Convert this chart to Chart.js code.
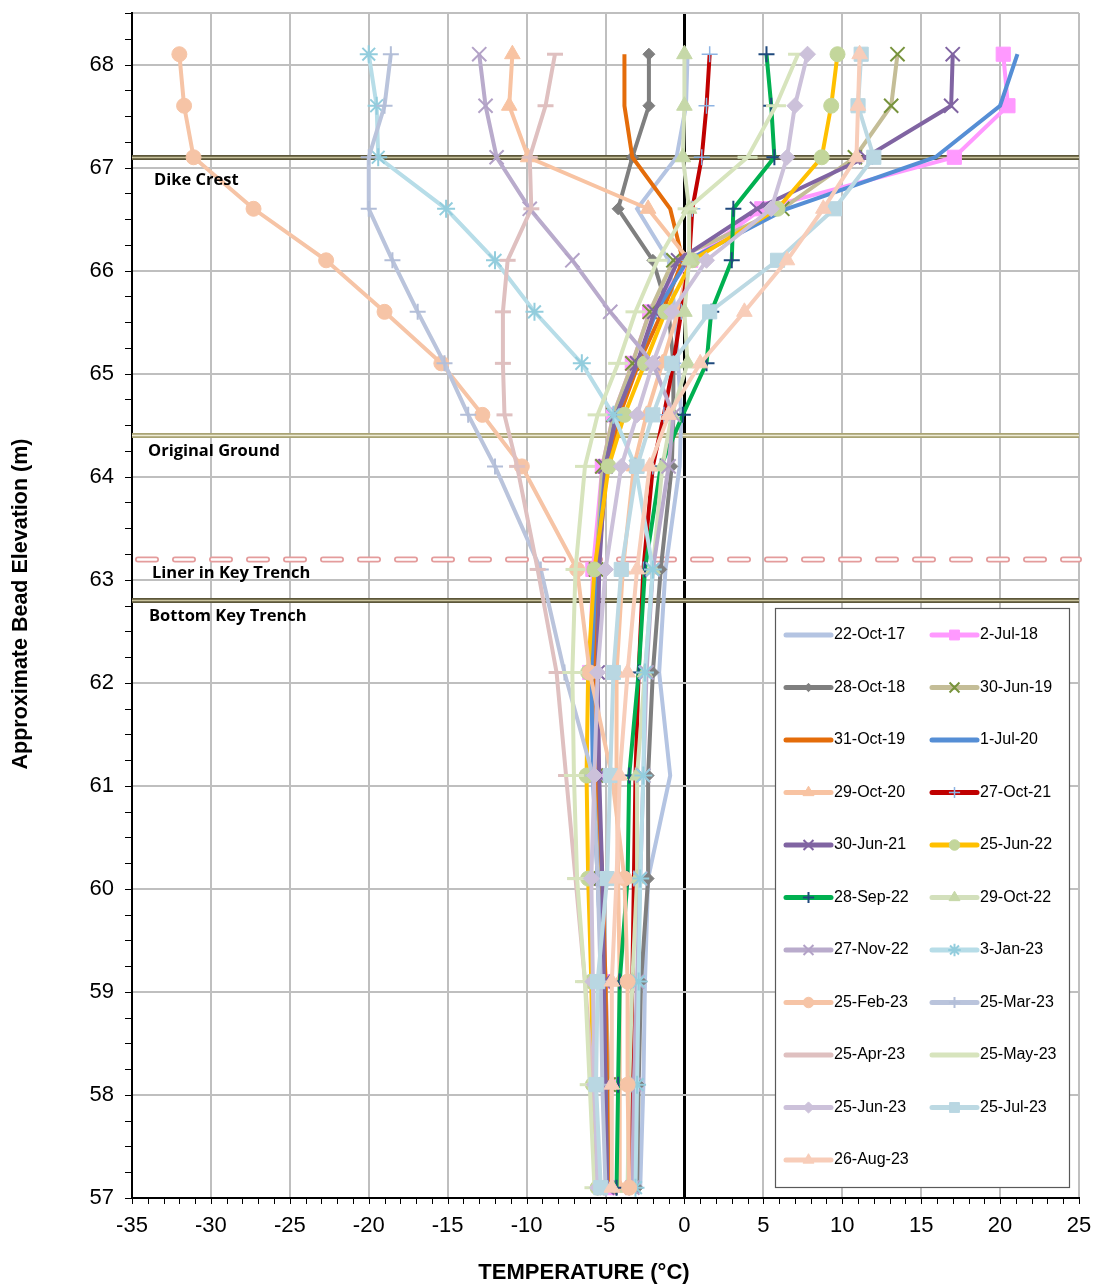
<!DOCTYPE html>
<html>
<head>
<meta charset="utf-8">
<script src="https://cdn.jsdelivr.net/npm/chart.js@4/dist/chart.umd.min.js"></script>
<style>
  html, body { margin: 0; padding: 0; background: #fff; }
  #wrap { width: 1097px; height: 1288px; position: relative; }
</style>
</head>
<body>
<div id="wrap"><canvas id="beadChart" width="1097" height="1288"></canvas></div>
<script>
// Bead elevations (m) - same for every survey
const elevations = [68.1, 67.6, 67.1, 66.6, 66.1, 65.6, 65.1, 64.6, 64.1, 63.1, 62.1, 61.1, 60.1, 59.1, 58.1, 57.1];

const seriesLabels = ['22-Oct-17', '2-Jul-18', '28-Oct-18', '30-Jun-19', '31-Oct-19', '1-Jul-20', '29-Oct-20',
  '27-Oct-21', '30-Jun-21', '25-Jun-22', '28-Sep-22', '29-Oct-22', '27-Nov-22', '3-Jan-23', '25-Feb-23',
  '25-Mar-23', '25-Apr-23', '25-May-23', '25-Jun-23', '25-Jul-23', '26-Aug-23'];

// Temperatures (deg C), read top bead -> bottom bead
const t22Oct17 = [0.2, 0.1, -0.5, -3.0, -1.0, -0.6, -0.4, -0.2, -0.3, -1.2, -1.6, -0.9, -2.3, -2.5, -2.6, -2.8];
const t2Jul18  = [20.2, 20.5, 17.1, 4.9, 0.4, -2.2, -3.3, -4.5, -5.2, -5.8, -6.0, -5.6, -5.2, -5.0, -4.8, -4.7];
const t28Oct18 = [-2.25, -2.25, -3.3, -4.2, -2.0, -1.0, -0.7, -0.7, -0.8, -1.5, -2.0, -2.3, -2.3, -2.75, -2.9, -3.0];
const t30Jun19 = [13.5, 13.1, 10.8, 6.2, -0.7, -2.2, -3.3, -4.5, -5.2, -5.6, -5.8, -5.6, -5.3, -5.0, -4.8, -4.7];
const t31Oct19 = [-3.8, -3.8, -3.3, -0.9, -0.1, -1.4, -2.9, -4.1, -4.9, -5.5, -5.7, -5.5, -5.2, -5.0, -4.9, -4.8];
const t1Jul20  = [21.1, 20.0, 15.9, 6.5, 0.2, -1.8, -3.0, -4.3, -5.0, -5.6, -5.9, -5.8, -5.5, -5.2, -5.0, -4.9];
const t29Oct20 = [-10.9, -11.1, -9.9, -2.3, 0.3, -0.4, -1.4, -2.4, -3.2, -3.9, -4.3, -4.3, -4.2, -4.1, -4.1, -4.1];
const t27Oct21 = [1.6, 1.4, 1.1, 0.5, 0.3, -0.2, -0.7, -1.3, -2.0, -2.6, -2.9, -3.1, -3.2, -3.3, -3.4, -3.5];
const t30Jun21 = [17.0, 16.9, 11.5, 4.6, -0.4, -1.9, -3.0, -4.3, -5.0, -5.4, -5.5, -5.4, -5.2, -5.1, -5.0, -4.9];
const t25Jun22 = [9.7, 9.3, 8.7, 5.9, 0.5, -1.2, -2.5, -3.8, -4.8, -5.7, -6.1, -6.2, -6.1, -5.9, -5.8, -5.5];
const t28Sep22 = [5.2, 5.5, 5.7, 3.1, 3.0, 1.7, 1.4, -0.1, -1.5, -2.5, -2.9, -3.5, -3.6, -4.1, -4.2, -4.3];
const t29Oct22 = [0.0, 0.0, -0.1, 0.3, 0.3, 0.0, 0.2, -0.8, -1.4, -2.0, -2.5, -3.0, -3.0, -3.3, -3.5, -3.6];
const t27Nov22 = [-13.0, -12.6, -11.9, -9.8, -7.1, -4.7, -2.0, -0.7, -1.0, -2.0, -2.4, -2.6, -2.8, -3.0, -3.2, -3.3];
const t3Jan23  = [-20.0, -19.5, -19.4, -15.1, -12.0, -9.5, -6.5, -4.5, -3.1, -2.0, -2.5, -2.6, -2.8, -2.9, -3.0, -3.1];
const t25Feb23 = [-32.0, -31.7, -31.1, -27.3, -22.7, -19.0, -15.4, -12.8, -10.3, -6.8, -6.0, -4.6, -3.8, -3.6, -3.6, -3.5];
const t25Mar23 = [-18.6, -19.0, -20.0, -20.0, -18.5, -16.9, -15.2, -13.7, -12.0, -9.1, -7.6, -5.8, -5.5, -5.3, -5.2, -5.0];
const t25Apr23 = [-8.2, -8.8, -9.8, -9.7, -11.2, -11.5, -11.5, -11.4, -10.6, -9.3, -8.1, -7.5, -6.9, -6.3, -5.8, -5.4];
const t25May23 = [7.2, 5.8, 4.0, 0.2, -1.7, -3.1, -4.2, -5.5, -6.3, -6.9, -7.1, -7.0, -6.8, -6.3, -6.0, -5.7];
const t25Jun23 = [7.8, 7.0, 6.5, 5.5, 1.4, -0.8, -2.0, -3.0, -4.0, -5.0, -5.5, -5.7, -5.9, -5.8, -5.7, -5.5];
const t25Jul23 = [11.2, 11.0, 12.0, 9.5, 5.9, 1.6, -0.8, -2.0, -3.0, -4.0, -4.5, -4.7, -4.9, -5.5, -5.6, -5.3];
const t26Aug23 = [11.1, 11.0, 10.9, 8.8, 6.5, 3.8, 1.0, -1.0, -2.2, -3.0, -3.6, -4.1, -4.3, -4.6, -4.6, -4.6];

const seriesTemps = [t22Oct17, t2Jul18, t28Oct18, t30Jun19, t31Oct19, t1Jul20, t29Oct20, t27Oct21, t30Jun21,
  t25Jun22, t28Sep22, t29Oct22, t27Nov22, t3Jan23, t25Feb23, t25Mar23, t25Apr23, t25May23, t25Jun23, t25Jul23, t26Aug23];

// Reference elevations and their names
const refElevations = [67.1, 64.4, 63.2, 62.8];
const refNames = ['Dike Crest', 'Original Ground', 'Liner in Key Trench', 'Bottom Key Trench'];

// Excel-like look for each series: line colour, marker, marker colour, marker size
const seriesStyles = [
  { line: '#B4C4E2', style: false },
  { line: '#FF99FF', style: 'rect', mark: '#FF99FF', r: 10 },
  { line: '#7F7F7F', style: 'rectRot', mark: '#7F7F7F', r: 6 },
  { line: '#C4BD97', style: 'crossRot', mark: '#77933C', r: 10, bw: 2 },
  { line: '#E46C0A', style: false },
  { line: '#558ED5', style: false },
  { line: '#F8C3A2', style: 'triangle', mark: '#F8C3A2', r: 9 },
  { line: '#C00000', style: 'cross', mark: '#8EB4E3', r: 8, bw: 1.5 },
  { line: '#8064A2', style: 'crossRot', mark: '#8064A2', r: 10, bw: 2 },
  { line: '#FFC000', style: 'circle', mark: '#C3D69B', r: 7.5 },
  { line: '#00B050', style: 'cross', mark: '#1F497D', r: 8, bw: 2 },
  { line: '#D3E0BC', style: 'triangle', mark: '#C6D8A8', r: 9 },
  { line: '#B9ABCC', style: 'crossRot', mark: '#B3A2C7', r: 10, bw: 2 },
  { line: '#B7DDE8', style: 'star', mark: '#93CDDD', r: 9, bw: 2 },
  { line: '#F6C4A6', style: 'circle', mark: '#F6C4A6', r: 7.5 },
  { line: '#BAC4DC', style: 'cross', mark: '#B3BED8', r: 8, bw: 2 },
  { line: '#DFC0C0', style: 'line', mark: '#DFC0C0', r: 8, bw: 3 },
  { line: '#D7E4BD', style: 'line', mark: '#D7E4BD', r: 10, bw: 3 },
  { line: '#CCC1DA', style: 'rectRot', mark: '#CCC1DA', r: 8 },
  { line: '#BCD9E3', style: 'rect', mark: '#B9D7E2', r: 10 },
  { line: '#F8CDB9', style: 'triangle', mark: '#F8CDB9', r: 9 }
];

const FONT = '"Liberation Sans", Arial, sans-serif';
Chart.defaults.font.family = FONT;
Chart.defaults.color = '#000';

const datasets = seriesLabels.map((label, i) => {
  const s = seriesStyles[i];
  return {
    label: label,
    data: elevations.map((e, k) => ({ x: seriesTemps[i][k], y: e })),
    showLine: true,
    borderColor: s.line,
    borderWidth: 4,
    pointStyle: s.style || 'circle',
    pointRadius: s.style ? s.r : 0,
    pointBackgroundColor: s.mark || s.line,
    pointBorderColor: s.mark || s.line,
    pointBorderWidth: s.bw || 1,
    order: -i // later surveys drawn on top, like Excel
  };
});

// reference lines + their labels
const refLinesPlugin = {
  id: 'refLines',
  beforeDatasetsDraw(chart) {
    const { ctx, chartArea: a, scales: { y } } = chart;
    ctx.save();
    refElevations.forEach((v, i) => {
      const py = Math.round(y.getPixelForValue(v)) + 0.5;
      if (i === 2) {
        // liner: outlined dashes
        ctx.lineCap = 'round';
        ctx.setLineDash([18, 19]);
        ctx.lineDashOffset = -6;
        ctx.strokeStyle = '#E49C9C';
        ctx.lineWidth = 6;
        ctx.beginPath(); ctx.moveTo(a.left, py); ctx.lineTo(a.right, py); ctx.stroke();
        ctx.strokeStyle = '#FFFFFF';
        ctx.lineWidth = 2.5;
        ctx.beginPath(); ctx.moveTo(a.left, py); ctx.lineTo(a.right, py); ctx.stroke();
        ctx.setLineDash([]);
        ctx.lineCap = 'butt';
      } else {
        const light = i === 1;
        ctx.strokeStyle = light ? '#A9A374' : '#5C573A';
        ctx.lineWidth = 5;
        ctx.beginPath(); ctx.moveTo(a.left, py); ctx.lineTo(a.right, py); ctx.stroke();
        ctx.strokeStyle = light ? '#EEEBD5' : '#C9C39D';
        ctx.lineWidth = 1.5;
        ctx.beginPath(); ctx.moveTo(a.left, py); ctx.lineTo(a.right, py); ctx.stroke();
      }
    });
    ctx.restore();
  },
  afterDatasetsDraw(chart) {
    const { ctx, chartArea: a, scales: { y } } = chart;
    const offs = [[22, 23], [16, 16], [20, 14], [17, 16]];
    ctx.save();
    ctx.font = 'bold 16.5px "Open Sans", sans-serif';
    ctx.fillStyle = '#000';
    ctx.textBaseline = 'middle';
    refNames.forEach((name, i) => {
      ctx.fillText(name, a.left + offs[i][0], y.getPixelForValue(refElevations[i]) + offs[i][1]);
    });
    ctx.restore();
  }
};

// minor ticks, axis titles, boxed two-column legend
const decorPlugin = {
  id: 'decor',
  afterDraw(chart) {
    const { ctx, chartArea: a, scales: { x, y } } = chart;
    ctx.save();
    ctx.strokeStyle = '#000';
    ctx.lineWidth = 1;
    for (let v = -35; v <= 25; v += 1) {
      const px = Math.round(x.getPixelForValue(v)) + 0.5;
      ctx.beginPath(); ctx.moveTo(px, a.bottom); ctx.lineTo(px, a.bottom + 6); ctx.stroke();
    }
    for (let v = 57; v <= 68.5; v += 0.25) {
      const py = Math.round(y.getPixelForValue(v)) + 0.5;
      ctx.beginPath(); ctx.moveTo(a.left - 7, py); ctx.lineTo(a.left, py); ctx.stroke();
    }

    // axis titles
    ctx.fillStyle = '#000';
    ctx.textAlign = 'center';
    ctx.textBaseline = 'middle';
    ctx.font = 'bold 22px ' + FONT;
    ctx.fillText('TEMPERATURE (°C)', 584, 1273);
    ctx.save();
    ctx.translate(21, 604);
    ctx.rotate(-Math.PI / 2);
    ctx.font = 'bold 21.5px ' + FONT;
    ctx.fillText('Approximate Bead Elevation (m)', 0, 0);
    ctx.restore();

    // legend box
    const bx = 775, by = 608, bw = 294, bh = 579;
    ctx.fillStyle = '#fff';
    ctx.fillRect(bx, by, bw, bh);
    ctx.strokeStyle = '#595959';
    ctx.lineWidth = 1.2;
    ctx.strokeRect(bx + 0.5, by + 0.5, bw, bh);
    ctx.textAlign = 'left';
    ctx.font = '16px ' + FONT;
    chart.data.datasets.forEach((ds, i) => {
      const s = seriesStyles[i];
      const x0 = i % 2 ? 932 : 786;
      const cy = 635 + Math.floor(i / 2) * 52.5;
      ctx.strokeStyle = s.line;
      ctx.lineWidth = 5;
      ctx.lineCap = 'round';
      ctx.beginPath(); ctx.moveTo(x0, cy); ctx.lineTo(x0 + 45, cy); ctx.stroke();
      ctx.lineCap = 'butt';
      if (s.style && Chart.helpers && Chart.helpers.drawPoint) {
        ctx.fillStyle = s.mark;
        ctx.strokeStyle = s.mark;
        ctx.lineWidth = s.bw || 1;
        Chart.helpers.drawPoint(ctx, { pointStyle: s.style, radius: s.r * 0.7, rotation: 0, borderWidth: s.bw || 1 }, x0 + 22.5, cy);
      }
      ctx.fillStyle = '#000';
      ctx.fillText(ds.label, x0 + 48, cy);
    });
    ctx.restore();
  }
};

new Chart(document.getElementById('beadChart'), {
  type: 'scatter',
  data: { datasets },
  options: {
    responsive: false,
    animation: false,
    layout: { padding: { left: 8, right: 18, top: 10, bottom: 0 } },
    plugins: { legend: { display: false }, tooltip: { enabled: false } },
    scales: {
      x: {
        type: 'linear',
        min: -35, max: 25,
        ticks: { stepSize: 5, padding: 15, font: { size: 22 }, color: '#000' },
        grid: {
          drawTicks: false,
          color: (c) => (c.tick && c.tick.value === 0 ? '#000' : '#BFBFBF'),
          lineWidth: (c) => (c.tick && c.tick.value === 0 ? 3 : 2)
        },
        border: { color: '#000', width: 2 },
        afterFit(scale) { scale.height = 90; scale.paddingLeft = 0; scale.paddingRight = 0; }
      },
      y: {
        type: 'linear',
        min: 57, max: 68.5,
        ticks: {
          stepSize: 1, padding: 18, font: { size: 22 }, color: '#000',
          callback: (v) => (Number.isInteger(v) ? v : '')
        },
        grid: { drawTicks: false, color: '#BFBFBF', lineWidth: 2 },
        border: { color: '#000', width: 2 },
        afterFit(scale) { scale.width = 124; scale.paddingTop = 0; scale.paddingBottom = 0; }
      }
    }
  },
  plugins: [refLinesPlugin, decorPlugin]
});
</script>
</body>
</html>
